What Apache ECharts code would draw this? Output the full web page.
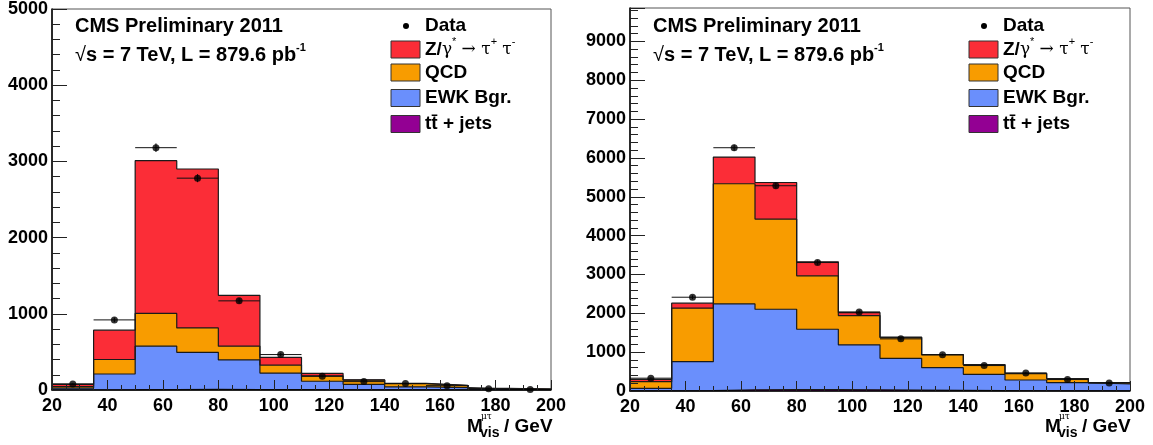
<!DOCTYPE html>
<html lang="en">
<head>
<meta charset="UTF-8">
<title>M_vis mu-tau</title>
<script src="https://cdn.jsdelivr.net/npm/echarts@6/dist/echarts.min.js"></script>
<style>
  html, body { margin: 0; padding: 0; background: #fff; }
  #chart { width: 1153px; height: 445px; }
</style>
</head>
<body>
<div id="chart"></div>
<script>
// bin edges (GeV), 12 bins of 15 GeV
var binEdges = [20, 35, 50, 65, 80, 95, 110, 125, 140, 155, 170, 185, 200];

// left panel
var leftTT   = [0, 2, 6, 7, 6, 4, 3, 2, 1, 1, 0, 0];
var leftEWK  = [25, 208, 569, 488, 389, 218, 112, 73, 41, 29, 12, 8];
var leftQCD  = [20, 190, 430, 320, 180, 105, 70, 55, 40, 28, 8, 4];
var leftZ    = [30, 385, 2005, 2085, 668, 100, 33, 3, 5, 3, 2, 1];
var leftData = [80, 920, 3180, 2780, 1170, 465, 180, 110, 85, 57, 15, 8];

// right panel
var rightTT   = [1, 8, 30, 35, 35, 30, 22, 15, 10, 7, 4, 3];
var rightEWK  = [69, 748, 2212, 2070, 1555, 1160, 820, 586, 420, 276, 211, 177];
var rightQCD  = [170, 1375, 3093, 2320, 1374, 751, 532, 327, 240, 164, 103, 35];
var rightZ    = [60, 129, 688, 943, 361, 79, 16, 12, 10, 8, 4, 3];
var rightData = [330, 2414, 6263, 5284, 3307, 2036, 1342, 936, 655, 464, 295, 206];

var colZ = '#fb2d37', colQCD = '#f89c00', colEWK = '#6a8ffc', colTT = '#930093';
var FONT = 'Liberation Sans, Arial, sans-serif';

// cumulative sum of several arrays
function cum(list) {
    return list[0].map(function (v, i) {
        var s = 0;
        list.forEach(function (a) { s += a[i]; });
        return s;
    });
}
// step points: value at each left edge, plus last one repeated at 200
function steps(vals) {
    var pts = vals.map(function (v, i) { return [binEdges[i], v]; });
    pts.push([binEdges[binEdges.length - 1], vals[vals.length - 1]]);
    return pts;
}

function histSeries(idx, vals, color) {
    return {
        type: 'line', xAxisIndex: idx, yAxisIndex: idx,
        step: 'end', symbol: 'none', silent: true,
        data: steps(vals),
        lineStyle: { color: '#1a1a1a', width: 1.2 },
        areaStyle: { color: color, opacity: 1 }
    };
}

function dataSeries(idx, vals) {
    var pts = vals.map(function (v, i) {
        return [(binEdges[i] + binEdges[i + 1]) / 2, v, binEdges[i], binEdges[i + 1]];
    });
    return [{
        type: 'custom', xAxisIndex: idx, yAxisIndex: idx, silent: true, z: 5,
        data: pts,
        renderItem: function (params, api) {
            var y = api.value(1), e = Math.sqrt(y);
            var a = api.coord([api.value(2), y]), b = api.coord([api.value(3), y]);
            var t = api.coord([api.value(0), y + e]), d = api.coord([api.value(0), Math.max(0, y - e)]);
            var st = { stroke: '#111', lineWidth: 1 };
            return { type: 'group', children: [
                { type: 'line', shape: { x1: a[0], y1: a[1], x2: b[0], y2: b[1] }, style: st },
                { type: 'line', shape: { x1: t[0], y1: t[1], x2: d[0], y2: d[1] }, style: st }
            ] };
        }
    }, {
        type: 'scatter', xAxisIndex: idx, yAxisIndex: idx, silent: true, z: 6,
        symbolSize: 7, itemStyle: { color: '#000' },
        data: pts.map(function (p) { return [p[0], p[1]]; })
    }];
}

function panelSeries(idx, tt, ewk, qcd, z, data) {
    return [
        histSeries(idx, cum([tt, ewk, qcd, z]), colZ),
        histSeries(idx, cum([tt, ewk, qcd]), colQCD),
        histSeries(idx, cum([tt, ewk]), colEWK),
        histSeries(idx, tt, colTT)
    ].concat(dataSeries(idx, data));
}

function plain(v) { return String(v); }

function xAxisFor(idx) {
    return {
        type: 'value', gridIndex: idx, min: 20, max: 200, interval: 20, z: 10,
        axisLine: { lineStyle: { color: '#000', width: 1.5 } },
        axisTick: { inside: true, length: 10, lineStyle: { color: '#222' } },
        minorTick: { show: true, splitNumber: 4, length: 5, lineStyle: { color: '#222' } },
        splitLine: { show: false },
        axisLabel: { color: '#000', fontFamily: FONT, fontWeight: 'bold', fontSize: 18, margin: 7, formatter: plain }
    };
}
function yAxisFor(idx, max, showMax) {
    return {
        type: 'value', gridIndex: idx, min: 0, max: max, interval: 1000, z: 10,
        axisLine: { show: true, lineStyle: { color: '#000', width: 1.5 } },
        axisTick: { inside: true, length: 15, lineStyle: { color: '#222' } },
        minorTick: { show: true, splitNumber: 5, length: 8, lineStyle: { color: '#222' } },
        splitLine: { show: false },
        axisLabel: { color: '#000', fontFamily: FONT, fontWeight: 'bold', fontSize: 18, margin: 4,
            showMaxLabel: showMax, formatter: plain }
    };
}

// texts and legend of one panel, x0 = grid left edge
function panelGraphics(x0) {
    var g = [];
    var bold = { fontFamily: FONT, fontWeight: 'bold', fontSize: 19, fill: '#000' };
    function txt(x, y, text, rich, size) {
        g.push({ type: 'text', x: x, y: y, z: 20, style: Object.assign({}, bold, {
            text: text, rich: rich || {}, verticalAlign: 'middle', fontSize: size || 19
        }) });
    }
    var rich = {
        b: { fontFamily: FONT, fontWeight: 'bold', fontSize: 19 },
        bb: { fontFamily: FONT, fontWeight: 'bold', fontSize: 20 },
        r: { fontFamily: FONT, fontSize: 20 },
        g: { fontFamily: 'DejaVu Serif, serif', fontSize: 17 },
        sup: { fontFamily: FONT, fontWeight: 'bold', fontSize: 11, verticalAlign: 'top', lineHeight: 26 },
        supr: { fontFamily: FONT, fontSize: 11, verticalAlign: 'top', lineHeight: 26 }
    };
    txt(x0 + 23, 26, 'CMS Preliminary 2011', null, 20);
    txt(x0 + 23, 55, '{r|\u221A}{bb|s = 7 TeV, L = 879.6 pb}{sup|-1}', rich);

    // legend
    var bx = x0 + 339, tx = x0 + 373;
    g.push({ type: 'circle', z: 20, shape: { cx: bx + 15, cy: 26, r: 3 }, style: { fill: '#000' } });
    txt(tx, 26, 'Data');
    var rows = [
        [49.5, colZ, '{b|Z/}{g|\u03B3}{supr|*} {g|\u2192 \u03C4}{supr|+} {g|\u03C4}{supr|-}'],
        [72.5, colQCD, 'QCD'],
        [98, colEWK, 'EWK Bgr.'],
        [124, colTT, 'tt\u0304 + jets']
    ];
    rows.forEach(function (r) {
        g.push({ type: 'rect', z: 20, shape: { x: bx, y: r[0] - 8.5, width: 29, height: 17 },
            style: { fill: r[1], stroke: '#333', lineWidth: 1 } });
        txt(tx, r[0], r[2], rich);
    });

    // x axis title
    txt(x0 + 415, 427, 'M');
    g.push({ type: 'text', x: x0 + 429, y: 417, z: 20, style: { text: '\u03BC\u03C4', fontFamily: 'DejaVu Serif, serif', fontSize: 9, fill: '#000', verticalAlign: 'middle' } });
    g.push({ type: 'text', x: x0 + 428, y: 433, z: 20, style: { text: 'vis', fontFamily: FONT, fontWeight: 'bold', fontSize: 14, fill: '#000', verticalAlign: 'middle' } });
    txt(x0 + 452, 427, '/ GeV');
    return g;
}

var chart = echarts.init(document.getElementById('chart'), null, { renderer: 'canvas' });
var option = {
    animation: false,
    backgroundColor: '#fff',
    grid: [
        { left: 52, top: 8, width: 499, height: 382, show: true, borderColor: '#555', borderWidth: 1, backgroundColor: 'transparent' },
        { left: 630, top: 8, width: 500, height: 383, show: true, borderColor: '#555', borderWidth: 1, backgroundColor: 'transparent' }
    ],
    xAxis: [xAxisFor(0), xAxisFor(1)],
    yAxis: [yAxisFor(0, 5000, true), yAxisFor(1, 9860, false)],
    series: panelSeries(0, leftTT, leftEWK, leftQCD, leftZ, leftData)
        .concat(panelSeries(1, rightTT, rightEWK, rightQCD, rightZ, rightData)),
    graphic: panelGraphics(52).concat(panelGraphics(630))
};
chart.setOption(option);
</script>
</body>
</html>
